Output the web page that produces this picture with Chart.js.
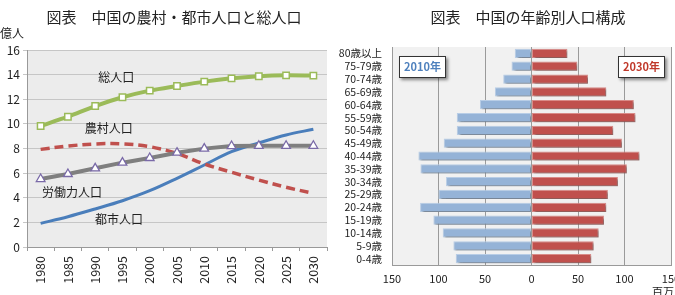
<!DOCTYPE html>
<html><head><meta charset="utf-8">
<script src="https://cdn.jsdelivr.net/npm/chart.js@4"></script>
<style>
html,body{margin:0;padding:0;background:#fff;overflow:hidden;width:675px;height:295px;}
#c1{position:absolute;left:0;top:0;}
#c2{position:absolute;left:335px;top:0;}
</style></head>
<body>
<canvas id="c1" width="335" height="295"></canvas>
<canvas id="c2" width="355" height="310"></canvas>
<script>
// ---- Left chart data ----
const years = ['1980','1985','1990','1995','2000','2005','2010','2015','2020','2025','2030'];
const totalPop = [9.83, 10.58, 11.45, 12.16, 12.70, 13.08, 13.43, 13.70, 13.87, 13.94, 13.92];
const laborPop = [5.52, 5.93, 6.39, 6.85, 7.23, 7.66, 7.99, 8.20, 8.22, 8.22, 8.22];
const ruralPop = [7.93, 8.20, 8.37, 8.38, 8.15, 7.60, 6.74, 6.07, 5.44, 4.85, 4.36];
const urbanPop = [1.92, 2.46, 3.09, 3.76, 4.57, 5.58, 6.66, 7.74, 8.45, 9.10, 9.56];
const seriesNames = ['総人口','農村人口','労働力人口','都市人口'];
// label anchors (category index, value)
const labelAnchors = [[2.77, 13.8],[2.5, 9.6],[1.15, 4.47],[2.87, 2.27]];

// ---- Right chart data ----
const ageGroups = ['80歳以上','75-79歳','70-74歳','65-69歳','60-64歳','55-59歳','50-54歳','45-49歳','40-44歳','35-39歳','30-34歳','25-29歳','20-24歳','15-19歳','10-14歳','5-9歳','0-4歳'];
const pop2010 = [18, 21.5, 30.4, 39.4, 55.4, 80.4, 80.4, 94.4, 121.6, 119.4, 91.9, 100.1, 119.8, 105.5, 95.5, 84, 81.5];
const pop2030 = [38.6, 49.3, 60.7, 80.4, 110, 111.8, 87.9, 97.2, 116.1, 102.5, 92.9, 82.1, 80.4, 77.9, 72.2, 66.8, 64.3];
const xTicks = [-150, -100, -50, 0, 50, 100, 150];

const JP = '"Noto Sans CJK JP", "Noto Sans", sans-serif';

const plotBg = {
  id: 'plotBg',
  beforeDraw(chart, args, opts) {
    const {ctx, chartArea: a} = chart;
    ctx.save();
    ctx.fillStyle = opts.color;
    ctx.fillRect(a.left, a.top, a.right - a.left, a.bottom - a.top);
    ctx.restore();
  }
};

// ---- Left chart ----
const leftExtras = {
  id: 'leftExtras',
  afterDraw(chart) {
    const {ctx} = chart;
    const xs = chart.scales.x, ys = chart.scales.y;
    ctx.save();
    ctx.fillStyle = '#222';
    ctx.textAlign = 'center';
    ctx.textBaseline = 'middle';
    ctx.font = '15px ' + JP;
    ctx.fillText('図表　中国の農村・都市人口と総人口', 174, 17);
    ctx.font = '12px ' + JP;
    ctx.textAlign = 'left';
    ctx.fillText('億人', 0, 33);
    ctx.textAlign = 'center';
    seriesNames.forEach((n, i) => {
      const [ix, v] = labelAnchors[i];
      ctx.fillText(n, xs.getPixelForValue(ix), ys.getPixelForValue(v));
    });
    ctx.restore();
  }
};

new Chart(document.getElementById('c1'), {
  type: 'line',
  data: {
    labels: years,
    datasets: [
      {label: '総人口', data: totalPop, borderColor: '#9bbb59', borderWidth: 4, tension: 0.3,
       pointStyle: 'rect', pointRadius: 4.5, pointBackgroundColor: '#fff', pointBorderColor: '#9bbb59', pointBorderWidth: 1.5},
      {label: '労働力人口', data: laborPop, borderColor: '#7f7f7f', borderWidth: 4, tension: 0,
       pointStyle: 'triangle', pointRadius: 5, pointBackgroundColor: '#fff', pointBorderColor: '#7a6aa8', pointBorderWidth: 1.3},
      {label: '農村人口', data: ruralPop, borderColor: '#c0504d', borderWidth: 3.5, borderDash: [9, 5], tension: 0.35, pointRadius: 0},
      {label: '都市人口', data: urbanPop, borderColor: '#4a7ebb', borderWidth: 3, tension: 0.35, pointRadius: 0}
    ]
  },
  options: {
    responsive: false, animation: false,
    layout: {padding: {top: 50, right: 8, left: 0, bottom: 0}},
    plugins: {legend: {display: false}, tooltip: {enabled: false}, plotBg: {color: '#ececec'}},
    scales: {
      x: {
        offset: true,
        afterFit: s => { s.height = 48; },
        grid: {offset: true, drawOnChartArea: false, drawTicks: true, tickLength: 4, color: '#999'},
        border: {color: '#999'},
        ticks: {maxRotation: 90, minRotation: 90, padding: 5, color: '#222', font: {size: 12.5, family: JP}}
      },
      y: {
        min: 0, max: 16,
        afterFit: s => { s.width = 27; },
        grid: {color: '#c6c6c6', tickLength: 4},
        border: {color: '#999'},
        ticks: {stepSize: 2, padding: 3, color: '#222', font: {size: 12, family: JP}}
      }
    }
  },
  plugins: [plotBg, leftExtras]
});

// ---- Right chart ----
const barShadow = {
  id: 'barShadow',
  beforeDatasetsDraw(chart) {
    const ctx = chart.ctx;
    ctx.save();
    ctx.shadowColor = 'rgba(0,0,0,0.35)';
    ctx.shadowBlur = 2;
    ctx.shadowOffsetX = 2;
    ctx.shadowOffsetY = 2;
  },
  afterDatasetsDraw(chart) { chart.ctx.restore(); }
};

function legendBox(ctx, x, y, w, h, text, color) {
  ctx.save();
  ctx.shadowColor = 'rgba(0,0,0,0.45)';
  ctx.shadowBlur = 3;
  ctx.shadowOffsetX = 2;
  ctx.shadowOffsetY = 2;
  ctx.fillStyle = '#fff';
  ctx.fillRect(x, y, w, h);
  ctx.restore();
  ctx.save();
  ctx.strokeStyle = '#333';
  ctx.lineWidth = 1;
  ctx.strokeRect(x + 0.5, y + 0.5, w - 1, h - 1);
  ctx.fillStyle = color;
  ctx.font = 'bold 11px ' + JP;
  ctx.textAlign = 'center';
  ctx.textBaseline = 'middle';
  ctx.fillText(text, x + w / 2, y + h / 2);
  ctx.restore();
}

const rightExtras = {
  id: 'rightExtras',
  afterDraw(chart) {
    const {ctx, chartArea: a} = chart;
    ctx.save();
    ctx.fillStyle = '#222';
    ctx.textAlign = 'center';
    ctx.textBaseline = 'middle';
    ctx.font = '15px ' + JP;
    ctx.fillText('図表　中国の年齢別人口構成', 193, 17);
    ctx.font = '11px ' + JP;
    ctx.textAlign = 'left';
    ctx.textBaseline = 'top';
    ctx.fillText('百万人', 317, 286);
    ctx.restore();
    legendBox(ctx, a.left + 7, a.top + 9, 47, 22, '2010年', '#4f81bd');
    legendBox(ctx, a.right - 53, a.top + 9, 47, 22, '2030年', '#c0392b');
  }
};

new Chart(document.getElementById('c2'), {
  type: 'bar',
  data: {
    labels: ageGroups,
    datasets: [
      {label: '2010年', data: pop2010.map(v => -v), backgroundColor: '#95b3d7', borderColor: '#b8cde6', borderWidth: 1, borderSkipped: false,
       barPercentage: 0.72, categoryPercentage: 1},
      {label: '2030年', data: pop2030, backgroundColor: '#c0504d', borderColor: '#d98b88', borderWidth: 1, borderSkipped: false,
       barPercentage: 0.72, categoryPercentage: 1}
    ]
  },
  options: {
    indexAxis: 'y',
    responsive: false, animation: false,
    layout: {padding: {top: 47, right: 19, left: 0, bottom: 0}},
    plugins: {legend: {display: false}, tooltip: {enabled: false}, plotBg: {color: '#f1f1f1'}},
    scales: {
      x: {
        min: -150, max: 150,
        afterFit: s => { s.height = 45; },
        afterBuildTicks: s => { s.ticks = xTicks.map(v => ({value: v})); },
        grid: {color: '#9a9a9a', drawTicks: false},
        border: {color: '#9a9a9a'},
        ticks: {padding: 7, color: '#222', font: {size: 11, family: JP}, callback: v => String(Math.abs(v))}
      },
      y: {
        stacked: true,
        afterFit: s => { s.width = 57; },
        grid: {display: false, drawTicks: false},
        border: {color: '#9a9a9a'},
        ticks: {autoSkip: false, padding: 10, color: '#222', font: {size: 10.5, family: JP}}
      }
    }
  },
  plugins: [plotBg, barShadow, rightExtras]
});
</script>
</body></html>
